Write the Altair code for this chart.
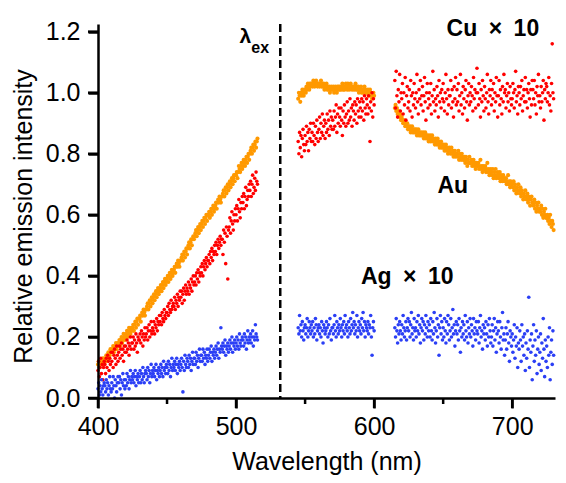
import altair as alt
import pandas as pd

# ---- data (relative intensity in percent, 0.5 nm sampling) ----
# Au (orange)
au_left_start = 400
au_left = [11,12,10,11,12,11,12,13,11,12, 13,12,14,13,14,15,13,14,16,15,
           15,16,17,15,16,17,18,16,17,18, 18,19,17,19,20,18,19,21,20,19,
           20,21,22,20,21,23,22,21,23,22, 23,24,22,24,25,23,25,26,24,26,
           26,27,25,27,28,27,29,28,27,29, 29,30,31,29,31,32,30,32,33,31,
           33,34,32,34,35,33,35,36,34,35, 36,37,35,37,38,36,38,39,37,38,
           39,40,38,40,41,39,41,42,40,41, 42,43,41,43,44,43,45,44,43,45,
           45,46,47,45,47,48,46,48,49,47, 49,50,51,49,51,52,50,52,53,52,
           53,54,55,53,55,56,54,56,57,55, 57,58,56,58,59,57,59,60,58,60,
           60,61,59,61,62,60,62,63,61,62, 63,64,62,64,65,64,66,65,64,66,
           66,67,68,66,68,69,67,69,70,68, 70,71,69,71,72,70,72,73,71,73,
           73,74,72,74,76,75,74,76,77,75, 76,78,77,76,78,79,77,79,80,78,
           80,81,82,80,82,83,81,83,84,82, 84,85]
au_mid_start = 545
au_mid = [98,100,99,97,100,99,101,100,99,101, 101,100,102,101,103,102,101,103,102,103,
          103,102,104,103,102,103,104,103,102,103, 103,102,103,104,102,103,102,103,101,102,
          102,103,101,102,101,102,100,101,102,101, 101,102,100,101,102,101,100,102,101,102,
          101,102,101,102,103,101,102,101,102,103, 102,101,103,102,101,102,103,102,101,102,
          102,101,102,103,101,102,101,102,100,101, 101,102,100,101,100,101,102,100,101,100,
          100,101,99,100,101,99,100,98,99,100, 99]
au_right_start = 615
au_right = [95,96,94,95,93,94,93,92,93,91, 92,91,90,91,90,89,90,89,90,88,
            89,88,89,87,88,89,87,88,87,88, 87,88,86,87,88,86,87,86,87,86,
            86,87,85,86,87,85,86,85,86,84, 85,86,84,85,86,84,85,84,83,85,
            84,83,85,83,84,82,83,84,82,83, 82,83,81,82,83,81,82,80,81,82,
            81,80,82,80,81,79,80,81,79,80, 80,79,81,78,80,79,78,80,79,78,
            78,79,77,79,78,76,78,77,79,77, 77,78,76,77,78,76,77,75,77,76,
            76,77,75,76,78,75,76,74,76,75, 75,76,74,75,77,74,75,73,74,75,
            74,73,75,72,74,73,75,72,73,74, 73,72,74,71,73,72,71,73,72,71,
            71,72,70,71,73,70,71,69,71,70, 70,69,71,68,70,69,67,69,68,70,
            68,67,69,66,68,67,65,67,66,68, 66,65,67,64,66,65,63,65,66,64,
            64,63,65,62,64,61,63,62,64,61, 62,61,63,60,62,59,61,60,62,59,
            59,60,58,59,57,60,58,56,58,57, 55]

# Cu x 10 (red)
cu_left_start = 400
cu_left = [9,12,7,10,13,8,11,6,10,12, 11,8,13,10,14,12,9,13,11,15,
           12,15,10,14,16,13,11,17,14,12, 15,17,13,16,18,14,16,12,17,15,
           17,15,19,16,18,14,17,20,16,18, 18,20,16,19,17,21,18,15,20,19,
           19,21,18,22,20,17,21,19,23,20, 21,23,19,22,24,20,22,25,21,23,
           22,25,21,24,23,26,22,25,24,27, 25,27,24,28,26,25,29,27,26,28,
           28,30,27,31,29,28,32,29,30,31, 30,33,29,32,31,34,30,33,32,35,
           33,35,31,34,36,32,35,37,34,36, 35,38,34,37,36,39,35,38,40,37,
           38,40,37,41,39,42,38,41,40,43, 41,44,40,43,45,42,44,46,43,45,
           45,47,44,48,46,49,45,48,47,50, 48,51,47,50,52,49,51,53,50,52,
           52,47,55,51,54,44,56,53,39,55, 56,59,54,58,61,57,55,60,58,62,
           60,63,58,62,65,61,59,64,62,66, 64,67,62,66,69,63,65,68,66,70,
           68,71,66,70,73,67,69,72,68,74, 71,70]
cu_mid_start = 545
cu_mid = [84,80,87,82,86,79,85,88,83,81, 86,83,89,84,87,81,88,85,90,84,
          87,84,90,86,83,89,85,91,87,84, 88,92,85,90,87,93,86,89,91,85,
          90,87,93,88,91,86,94,89,92,88, 91,88,94,89,92,96,87,93,90,95,
          92,89,95,91,86,94,90,96,92,89, 93,97,90,94,91,98,92,95,89,96,
          94,91,97,93,96,90,98,94,92,97, 95,92,98,94,97,91,99,95,93,98,
          96,93,99,95,84,97,94,100,92,98, 96]
cu_right_start = 615
cu_right = [104,95,107,99,92,101,97,106,94,100, 98,103,93,100,96,105,91,99,102,95,
            97,101,94,104,99,92,100,96,103,98, 95,100,106,97,93,101,98,104,96,99,
            102,94,99,105,97,91,100,103,95,98, 100,96,103,93,99,107,97,101,94,98,
            96,102,99,92,104,97,100,95,101,98, 103,97,94,100,106,98,93,101,96,99,
            99,104,95,101,97,92,102,98,105,96, 101,97,103,94,99,106,96,100,93,102,
            98,95,101,104,97,91,99,103,96,100, 97,102,99,94,105,98,101,95,100,108,
            100,96,103,98,92,101,97,104,99,94, 102,98,95,100,106,97,93,101,99,104,
            96,101,98,103,94,100,97,105,99,92, 99,104,96,101,98,93,102,97,106,100,
            101,95,99,103,97,100,94,102,98,96, 98,103,100,95,101,107,97,99,93,102,
            100,96,102,98,104,94,99,101,97,105, 97,101,95,100,103,98,92,101,96,104,
            101,98,104,96,100,93,102,99,106,97, 99,95,102,97,100,104,91,101,98,103,
            102,97,100,105,96,99,94,103,116,100, 98]

# Ag x 10 (blue)
ag_left_start = 400
ag_left = [3,5,1,4,2,6,3,1,4,5, 4,2,6,3,5,1,4,7,3,2,
           5,3,7,4,0,6,4,2,5,7, 5,7,3,6,1,5,8,4,6,3,
           6,4,8,5,7,3,6,9,5,7, 6,8,5,7,9,4,7,6,8,5,
           7,9,5,8,6,10,7,5,8,9, 8,6,10,7,9,5,8,11,7,9,
           8,10,7,9,11,6,9,8,10,7, 9,11,8,10,7,12,9,10,8,11,
           10,8,12,9,11,7,10,13,9,11, 10,12,9,11,13,8,11,10,12,9,
           11,13,10,2,12,9,14,11,10,13, 12,10,14,11,13,9,12,15,11,13,
           13,11,15,12,14,10,13,16,12,14, 14,12,16,13,15,11,14,13,16,12,
           14,16,13,15,17,12,15,14,16,13, 15,17,14,16,18,13,16,15,23,17,
           16,18,15,17,19,14,17,16,18,15, 17,19,16,18,20,15,18,17,19,16,
           18,20,17,19,16,21,18,17,19,20, 19,17,21,18,20,16,19,22,18,20,
           19,21,18,20,22,17,20,19,24,21, 20,19]
ag_mid_start = 545
ag_mid = [23,21,27,22,24,20,25,22,19,23, 24,21,23,26,20,22,25,23,21,24,
          22,25,20,23,21,26,24,19,22,23, 24,21,23,20,25,22,18,24,23,21,
          22,25,23,20,24,21,26,22,19,23, 23,21,24,27,22,20,25,23,21,24,
          22,26,23,20,24,22,25,21,27,23, 24,22,20,25,23,21,26,22,24,28,
          23,25,21,24,22,27,20,23,25,22, 24,21,26,23,28,22,25,20,24,23,
          22,25,21,24,23,27,20,14,23,25, 22]
ag_right_start = 615
ag_right = [23,20,26,22,18,24,21,25,22,19, 24,21,27,23,20,22,25,19,23,26,
            22,25,20,24,28,21,23,19,26,22, 23,20,25,22,27,21,24,18,23,26,
            22,25,19,24,21,27,23,20,25,22, 24,20,26,22,19,25,21,28,23,18,
            22,26,20,24,14,23,27,21,25,19, 23,20,26,22,18,25,21,27,24,19,
            22,26,20,23,29,21,24,17,22,25, 21,24,19,26,22,15,23,20,25,21,
            24,19,27,22,20,25,18,23,21,26, 20,24,22,17,26,21,23,19,25,22,
            21,25,18,23,27,20,22,16,24,21, 23,19,25,21,17,24,20,26,22,18,
            20,24,17,22,26,19,23,15,21,25, 22,18,25,20,16,23,28,19,21,14,
            19,23,16,21,25,18,12,22,20,17, 21,15,19,24,13,20,17,23,10,18,
            16,22,19,12,24,17,20,14,21,9, 18,13,22,16,33,10,19,15,21,6,
            17,24,12,19,14,22,8,16,20,11, 15,21,9,18,13,26,16,7,19,12,
            17,10,20,14,23,6,15,19,11,22, 14]

excitation_nm = [532]
major_x_ticks = [400, 500, 600, 700]
minor_x_ticks = [450, 550, 650]
y_ticks = [0.0, 0.2, 0.4, 0.6, 0.8, 1.0, 1.2]

series_names = ["Au", "Cu", "Ag"]
series_colors = ["#FF9900", "#FF0000", "#2B3FF5"]

labels_text = ["Cu\u2002×\u200210", "Au", "Ag\u2002×\u200210"]
labels_x = [686, 657, 624]
labels_y = [1.186, 0.672, 0.372]


def seg(vals, start, name):
    return pd.DataFrame({
        "wl": [start + 0.5 * i for i in range(len(vals))],
        "y": [v / 100 for v in vals],
        "s": name,
    })


df_au = pd.concat([seg(au_left, au_left_start, "Au"), seg(au_mid, au_mid_start, "Au"),
                   seg(au_right, au_right_start, "Au")], ignore_index=True)
df_other = pd.concat([
    seg(cu_left, cu_left_start, "Cu"), seg(cu_mid, cu_mid_start, "Cu"), seg(cu_right, cu_right_start, "Cu"),
    seg(ag_left, ag_left_start, "Ag"), seg(ag_mid, ag_mid_start, "Ag"), seg(ag_right, ag_right_start, "Ag"),
], ignore_index=True)

FONT = "Liberation Sans"
W, H = 457, 374
TICK = 10

xenc = alt.X("wl:Q", title="Wavelength (nm)",
             scale=alt.Scale(domain=[400, 731], nice=False, zero=False, padding=0),
             axis=alt.Axis(values=major_x_ticks, grid=False, tickSize=TICK, zindex=2,
                           tickColor="black", tickWidth=2.5,
                           labelPadding=6, titlePadding=10, labelFlush=False))
yenc = alt.Y("y:Q", title="Relative emission intensity",
             scale=alt.Scale(domain=[0, 1.225], nice=False, zero=False, padding=0),
             axis=alt.Axis(values=y_ticks, format=".1f", grid=False, tickSize=TICK, zindex=2,
                           tickColor="black", tickWidth=2.5,
                           labelPadding=8, titlePadding=9, labelFlush=False, titleY=192))
cenc = alt.Color("s:N", scale=alt.Scale(domain=series_names, range=series_colors), legend=None)

points_au = alt.Chart(df_au).mark_circle(size=17, opacity=1).encode(x=xenc, y=yenc, color=cenc)
points_other = alt.Chart(df_other).mark_circle(size=13, opacity=1).encode(x=xenc, y=yenc, color=cenc)

dash = alt.Chart(pd.DataFrame({"wl": excitation_nm})).mark_rule(
    color="black", strokeWidth=2.5, strokeDash=[8, 4]
).encode(x=xenc)

# tick marks drawn as filled bars (outside the plot area)
xticks_major = alt.Chart(pd.DataFrame({"wl": major_x_ticks})).mark_bar(
    color="black", width=2.5, clip=False
).encode(x=xenc, y=alt.value(H), y2=alt.value(H + TICK))
xticks_minor = alt.Chart(pd.DataFrame({"wl": minor_x_ticks})).mark_bar(
    color="black", width=2.5, clip=False
).encode(x=xenc, y=alt.value(H), y2=alt.value(H + 6))
yticks_major = alt.Chart(pd.DataFrame({"y": y_ticks})).mark_bar(
    color="black", height=2.5, orient="horizontal", clip=False
).encode(y=yenc, x=alt.value(-TICK), x2=alt.value(0))

lab_df = pd.DataFrame({"wl": labels_x, "y": labels_y, "t": labels_text})
labels = alt.Chart(lab_df).mark_text(
    font=FONT, fontSize=23, fontWeight="bold", color="black", align="center", baseline="alphabetic"
).encode(x=xenc, y=yenc, text="t:N")

lam = alt.Chart(pd.DataFrame({"wl": [511], "y": [1.163], "t": ["λ"]})).mark_text(
    font=FONT, fontSize=21, fontWeight="bold", color="black", align="right", baseline="alphabetic"
).encode(x=xenc, y=yenc, text="t:N")
sub = alt.Chart(pd.DataFrame({"wl": [511], "y": [1.13], "t": ["ex"]})).mark_text(
    font=FONT, fontSize=16, fontWeight="bold", color="black", align="left", baseline="alphabetic"
).encode(x=xenc, y=yenc, text="t:N")

chart = alt.layer(points_au, points_other, dash, xticks_major, xticks_minor, yticks_major,
                  labels, lam, sub).properties(
    width=W, height=H,
    autosize="none",
    padding={"left": 90, "top": 16, "right": 3, "bottom": 85},
).configure_view(stroke=None).configure_axis(
    domainColor="black", domainWidth=2.5,
    labelFont=FONT, labelFontSize=25, labelColor="black",
    titleFont=FONT, titleFontSize=25, titleColor="black", titleFontWeight="normal",
)

chart.save("out.html", embed_options={"renderer": "svg", "actions": False})
